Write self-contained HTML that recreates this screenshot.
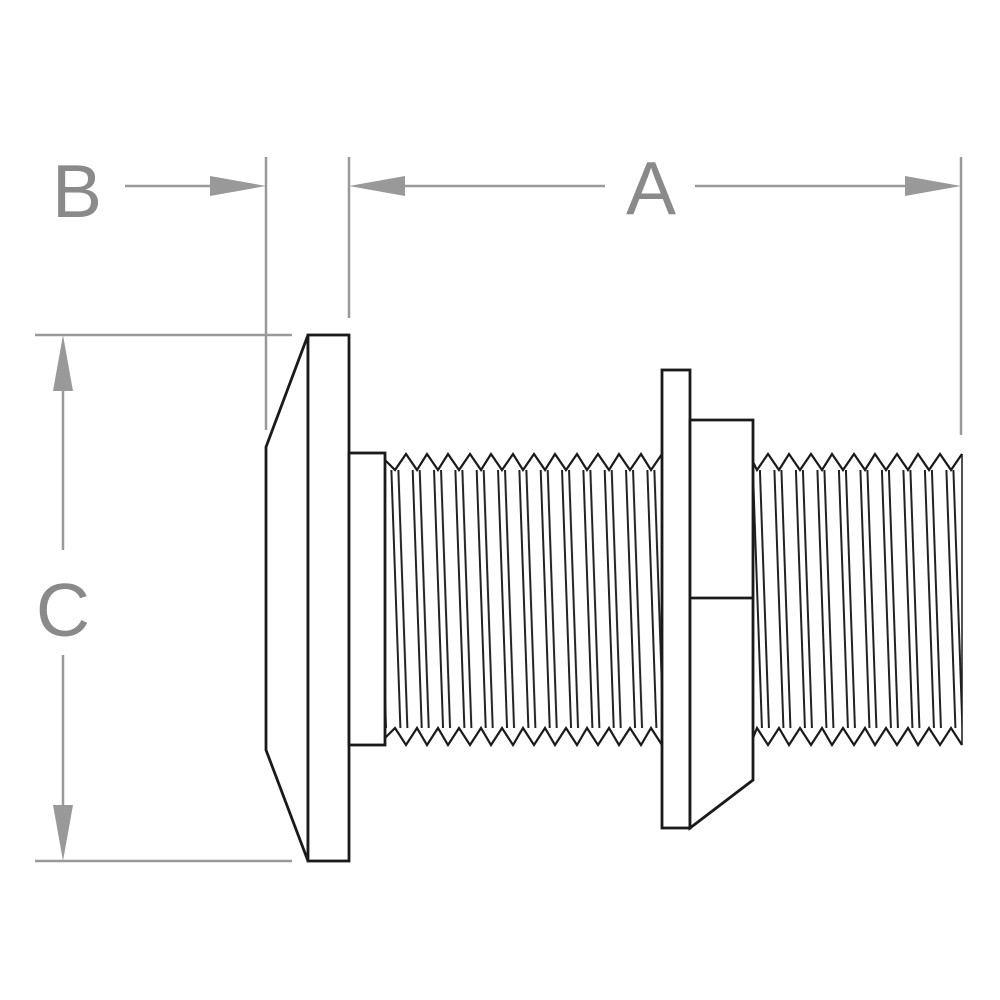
<!DOCTYPE html>
<html><head><meta charset="utf-8"><style>html,body{margin:0;padding:0;background:#fff}svg{display:block}</style></head>
<body>
<svg width="1000" height="1000" viewBox="0 0 1000 1000" xmlns="http://www.w3.org/2000/svg">
<defs>
<pattern id="thL" x="395.3" y="0" width="21.333" height="1000" patternUnits="userSpaceOnUse" patternTransform="skewX(2)">
<line x1="1" y1="0" x2="1" y2="1000" stroke="#222" stroke-width="2"/>
<line x1="8" y1="0" x2="8" y2="1000" stroke="#222" stroke-width="2"/>
</pattern>
<pattern id="thR" x="757" y="0" width="21.5" height="1000" patternUnits="userSpaceOnUse" patternTransform="skewX(2)">
<line x1="1" y1="0" x2="1" y2="1000" stroke="#222" stroke-width="2"/>
<line x1="8" y1="0" x2="8" y2="1000" stroke="#222" stroke-width="2"/>
</pattern>
</defs>
<g fill="none" stroke="#1a1a1a" stroke-width="2.8" stroke-linejoin="miter">
<rect x="386" y="470" width="276" height="258" fill="url(#thL)" stroke="none"/>
<polyline points="385,460 395,470 406,454 417,470 427,454 438,470 448,454 459,470 470,454 481,470 491,454 502,470 513,454 523,470 534,454 545,470 555,454 566,470 577,454 587,470 598,454 609,470 619,454 630,470 641,454 651,470 662,454" stroke-width="2.2"/>
<polyline points="385,738 395,728 406,745 417,728 427,745 438,728 448,745 459,728 470,745 481,728 491,745 502,728 513,745 523,728 534,745 545,728 555,745 566,728 577,745 587,728 598,745 609,728 619,745 630,728 641,745 651,728 662,745" stroke-width="2.2"/>
<rect x="754" y="470" width="208" height="258" fill="url(#thR)" stroke="none"/>
<polyline points="753,462 757,470 768,454 779,470 789,454 800,470 811,454 822,470 832,454 843,470 854,454 865,470 875,454 886,470 897,454 908,470 918,454 929,470 940,454 951,470 962,454" stroke-width="2.2"/>
<polyline points="753,738 757,728 768,745 779,728 789,745 800,728 811,745 822,728 832,745 843,728 854,745 865,728 875,745 886,728 897,745 908,728 918,745 929,728 940,745 951,728 962,745" stroke-width="2.2"/>
<line x1="962" y1="454" x2="962" y2="745" stroke-width="1.5"/>
<polygon points="308,335 266,447 266,750 308,861" fill="#fff"/>
<rect x="308" y="335" width="41" height="526" fill="#fff"/>
<rect x="349" y="453" width="36" height="292" fill="#fff"/>
<rect x="662" y="370" width="28" height="458" fill="#fff"/>
<polygon points="690,420 753,420 753,780 690,828" fill="#fff"/>
<line x1="690" y1="598" x2="753" y2="598"/>
</g>
<g stroke="#999" stroke-width="2.5" fill="none">
<line x1="266" y1="157" x2="266" y2="430"/>
<line x1="349" y1="157" x2="349" y2="318"/>
<line x1="961" y1="157" x2="961" y2="435"/>
<line x1="35" y1="335" x2="292" y2="335"/>
<line x1="35" y1="861" x2="292" y2="861"/>
<line x1="125" y1="186" x2="215" y2="186"/>
<line x1="395" y1="186" x2="605" y2="186"/>
<line x1="695" y1="186" x2="910" y2="186"/>
<line x1="63" y1="380" x2="63" y2="550"/>
<line x1="63" y1="655" x2="63" y2="815"/>
</g>
<g fill="#999">
<polygon points="210,176 266,186 210,196"/>
<polygon points="405,176 349,186 405,196"/>
<polygon points="905,176 961,186 905,196"/>
<polygon points="53,391 63,335 73,391"/>
<polygon points="53,805 63,861 73,805"/>
</g>
<g fill="#8a8a8a" font-family="Liberation Sans, Arial, sans-serif" font-size="75" text-anchor="middle">
<text x="77" y="217">B</text>
<text x="651" y="214">A</text>
<text x="63" y="636">C</text>
</g>
</svg>
</body></html>
